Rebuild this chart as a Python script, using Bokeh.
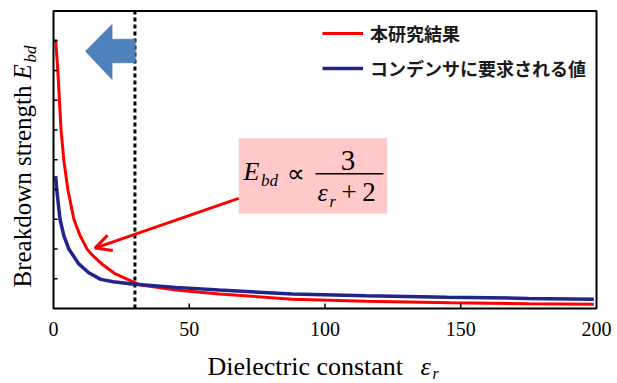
import math
from bokeh.plotting import figure
from bokeh.models import (Range1d, Label, Arrow, OpenHead, BoxAnnotation, PolyAnnotation)
from bokeh.embed import file_html
from bokeh.resources import INLINE

# ---- data ----
red_x = [0.8, 1.6, 2.2, 2.8, 3.8, 5.3, 7.5, 9.8, 12.4, 14.8, 17.9, 22.8, 31.6, 45, 61, 88, 115, 146, 175, 199]
red_y = [9.05, 7.98, 6.97, 5.99, 4.99, 3.99, 3.0, 2.45, 1.99, 1.75, 1.49, 1.16, 0.80, 0.62, 0.49, 0.31, 0.24, 0.19, 0.16, 0.14]
blue_x = [0.8, 1.2, 2.4, 3.8, 5.7, 9.4, 13.0, 17.4, 22.0, 29, 45, 61, 88, 115, 145, 175, 199]
blue_y = [4.45, 3.99, 3.0, 2.45, 1.99, 1.49, 1.20, 0.98, 0.90, 0.82, 0.71, 0.62, 0.49, 0.43, 0.38, 0.34, 0.31]
x_ticks = [0, 50, 100, 150, 200]
x_tick_labels = ["0", "50", "100", "150", "200"]
y_ticks = [1, 2, 3, 4, 5, 6, 7, 8, 9]
x_lim = (0, 200)
y_lim = (0, 10)
threshold = 30
red_label = "本研究結果"
blue_label = "コンデンサに要求される値"

RED = "#ff0000"
BLUE = "#23238e"
SERIF = "Liberation Serif"

# the whole canvas is the data frame; the visible box (0..200, 0..10) is drawn inside it
p = figure(frame_width=617, frame_height=383,
           min_border_left=0, min_border_right=0, min_border_top=0, min_border_bottom=0,
           x_range=Range1d(-19.52, 207.73), y_range=Range1d(-2.521, 10.353),
           x_axis_type=None, y_axis_type=None,
           output_backend="svg", toolbar_location=None)
p.background_fill_color = "white"
p.border_fill_color = "white"
p.outline_line_color = None
p.xgrid.visible = False
p.ygrid.visible = False

# pink formula box
p.add_layout(BoxAnnotation(left=68.25, right=122.9, bottom=3.19, top=5.72,
                           fill_color="#ffc9c9", fill_alpha=1, line_color=None))

# dotted threshold line
p.segment(x0=[threshold], y0=[y_lim[0]], x1=[threshold], y1=[y_lim[1]],
          line_color="black", line_width=3, line_dash="4 3")

# curves
p.line(red_x, red_y, line_color=RED, line_width=3, legend_label=red_label)
p.line(blue_x, blue_y, line_color=BLUE, line_width=3.5, legend_label=blue_label)

# plot box and ticks
p.add_layout(BoxAnnotation(left=x_lim[0], right=x_lim[1], bottom=y_lim[0], top=y_lim[1],
                           fill_alpha=0, line_color="black", line_width=2, line_alpha=1))
p.segment(x0=x_ticks[1:-1], x1=x_ticks[1:-1], y0=[0] * 3, y1=[0.17] * 3,
          line_color="black", line_width=1.5)
p.segment(x0=[0] * len(y_ticks), x1=[1.5] * len(y_ticks), y0=y_ticks, y1=y_ticks,
          line_color="black", line_width=1.5)
p.text(x=x_ticks, y=[-0.68] * len(x_ticks), text=x_tick_labels,
       text_font=SERIF, text_font_size="20px", text_align="center",
       text_baseline="middle", text_color="black")

# blue block arrow
p.add_layout(PolyAnnotation(xs=[11.8, 21.6, 21.6, 30.2, 30.2, 21.6, 21.6],
                            ys=[8.65, 9.55, 9.05, 9.05, 8.26, 8.26, 7.7],
                            fill_color="#4f81bd", fill_alpha=1,
                            line_color="#385d8a", line_width=1.5))

# red pointer arrow
p.add_layout(Arrow(end=OpenHead(line_color=RED, line_width=3, size=16),
                   x_start=68.2, y_start=3.7, x_end=15.3, y_end=2.03,
                   line_color=RED, line_width=3))

def lab(x, y, text, size, style="normal", align="left", angle=0.0, font=SERIF):
    p.add_layout(Label(x=x, y=y, text=text, text_font=font, text_font_size=size,
                       text_font_style=style, text_align=align,
                       text_baseline="middle", text_color="black", angle=angle))

# formula  E_bd ∝ 3/(ε_r + 2)
lab(70.0, 4.60, "E", "26px", "italic")
lab(76.4, 4.30, "bd", "17px", "italic")
lab(89.3, 4.54, "\u221d", "25px", "normal", "center")
frac = p.segment(x0=[96.5], y0=[4.53], x1=[121.5], y1=[4.53], line_color="black", line_width=1.5)
frac.level = "overlay"
lab(108.5, 4.96, "3", "29px", "normal", "center")
lab(97.2, 3.89, "\u03b5", "26px", "italic")
lab(101.7, 3.61, "r", "16px", "italic")
lab(106.1, 3.91, "+\u20092", "27px", "normal")

# x-axis title
lab(56.7, -1.956, "Dielectric constant", "26px")
lab(135.2, -1.956, "\u03b5", "26px", "italic")
lab(139.6, -2.17, "r", "16px", "italic")

# y-axis title (rotated)
A = math.pi / 2
lab(-11.3, 0.706, "Breakdown strength", "25px", angle=A)
lab(-11.3, 7.70, "E", "25px", "italic", angle=A)
lab(-8.5, 8.27, "bd", "17px", "italic", angle=A)

# legend
lg = p.legend[0]
lg.location = (322, 302)
lg.padding = 0
lg.margin = 0
lg.spacing = 9
lg.border_line_color = None
lg.background_fill_alpha = 0
lg.glyph_width = 41
lg.glyph_height = 20
lg.label_height = 20
lg.label_standoff = 7
lg.label_text_font = "Noto Sans CJK JP"
lg.label_text_font_size = "18px"
lg.label_text_font_style = "bold"
lg.label_text_color = "#1a1a1a"

open("out.html", "w").write(file_html(p, INLINE))
